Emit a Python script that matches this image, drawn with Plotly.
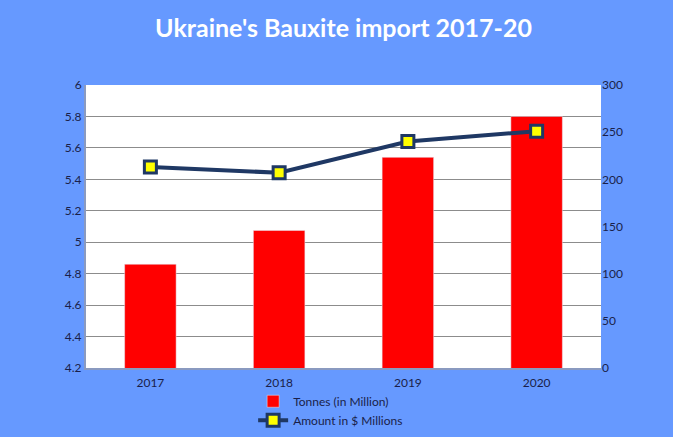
import plotly.graph_objects as go

years = ["2017", "2018", "2019", "2020"]
tonnes_mn = [4.86, 5.075, 5.54, 5.80]
amount_usd_mn = [213, 207, 240, 251]

BG = "#6699FF"
NAVY = "#1F3864"
TXT = "#1A1F4A"

fig = go.Figure()

fig.add_trace(go.Bar(
    x=years, y=tonnes_mn, name="Tonnes (in Million)",
    marker_color="#FF0000", yaxis="y",
))

fig.add_trace(go.Scatter(
    x=years, y=amount_usd_mn, name="Amount in $ Millions",
    mode="lines+markers", yaxis="y2",
    line=dict(color=NAVY, width=4),
    marker=dict(symbol="square", size=12, color="#FFFF00",
                line=dict(color=NAVY, width=3)),
))

fig.update_layout(
    width=673, height=437,
    margin=dict(l=86, r=72, t=85, b=69, autoexpand=False),
    paper_bgcolor=BG,
    plot_bgcolor="white",
    font=dict(family="Lato, Open Sans, sans-serif", size=12, color=TXT),
    title=dict(text="<b>Ukraine's Bauxite import 2017-20</b>",
               x=0.5, xref="paper", xanchor="center",
               y=0.935, yanchor="middle",
               font=dict(size=25, color="white", family="Lato, Open Sans, sans-serif")),
    bargap=0.6,
    showlegend=True,
    legend=dict(orientation="v", x=0.475, xanchor="center",
                yref="container", y=0.115, yanchor="top",
                bgcolor="rgba(0,0,0,0)",
                font=dict(size=12, color=TXT), tracegroupgap=3),
    xaxis=dict(showgrid=False, showline=True, linecolor="#8A9AC0", linewidth=2,
               ticks="", ticklabelstandoff=3, tickfont=dict(size=12, color=TXT)),
    yaxis=dict(range=[4.2, 6.0], dtick=0.2, showgrid=True, gridcolor="#8C8C8C",
               gridwidth=1, showline=True, linecolor="#8A9AC0", linewidth=2,
               zeroline=False, tickformat="~g", ticks="",
               tickfont=dict(size=12, color=TXT)),
    yaxis2=dict(range=[0, 300], dtick=50, overlaying="y", side="right",
                showgrid=False, zeroline=False, showline=False,
                tickfont=dict(size=12, color=TXT)),
)

fig.write_html("out.html", config={"displayModeBar": False},
               post_script="document.body.style.margin='0';document.body.style.overflow='hidden';")
